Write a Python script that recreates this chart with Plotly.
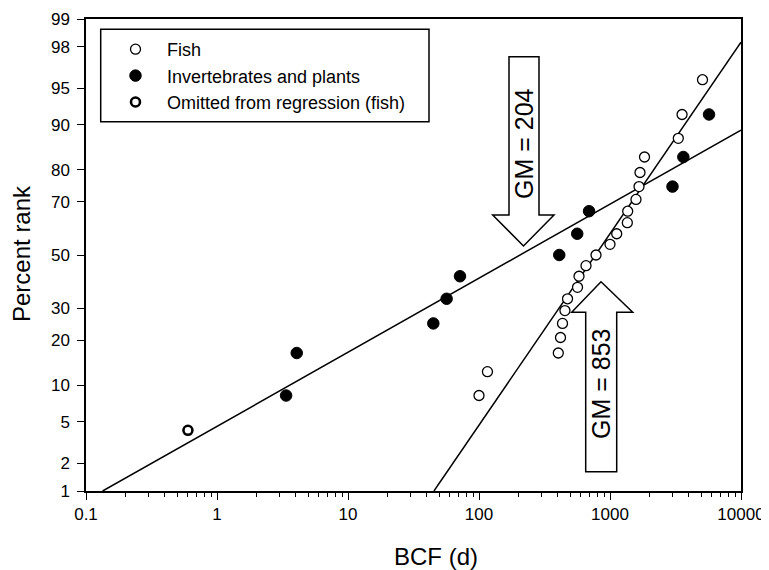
import plotly.graph_objects as go
from statistics import NormalDist

# ---- data ----
fish_bcf = [100, 116, 403, 419, 434, 453, 474, 565, 580, 656, 782, 1000,
            1125, 1356, 1365, 1579, 1665, 1694, 1834, 3322, 3548, 5083]
fish_pct = [8.3, 12.5, 16.7, 20.8, 25.0, 29.2, 33.3, 37.5, 41.7, 45.8, 50.0,
            54.2, 58.3, 62.5, 66.7, 70.8, 75.0, 79.2, 83.3, 87.5, 91.7, 95.8]

inv_bcf = [3.37, 4.06, 44.8, 56.6, 71.6, 410, 562, 692, 3000, 3630, 5700]
inv_pct = [8.3, 16.7, 25.0, 33.3, 41.7, 50.0, 58.3, 66.7, 75.0, 83.3, 91.7]

omit_bcf = [0.6]
omit_pct = [4.2]

fish_line_bcf = [45.3, 10000]
fish_line_pct = [1.0, 98.2]
inv_line_bcf = [0.134, 10000]
inv_line_pct = [1.0, 89.1]

y_tick_pct = [1, 2, 5, 10, 20, 30, 50, 70, 80, 90, 95, 98, 99]
x_tick_vals = [0.1, 1, 10, 100, 1000, 10000]
x_tick_text = ["0.1", "1", "10", "100", "1000", "10000"]

gm_labels = ["GM = 204", "GM = 853"]

nd = NormalDist()


def probit(pcts):
    return [nd.inv_cdf(p / 100.0) for p in pcts]


FONT = "Liberation Sans, Arial, sans-serif"

fig = go.Figure()
fig.add_trace(go.Scatter(
    x=fish_line_bcf, y=probit(fish_line_pct), mode="lines",
    line=dict(color="black", width=1.5), showlegend=False, hoverinfo="skip"))
fig.add_trace(go.Scatter(
    x=inv_line_bcf, y=probit(inv_line_pct), mode="lines",
    line=dict(color="black", width=1.5), showlegend=False, hoverinfo="skip"))
fig.add_trace(go.Scatter(
    x=fish_bcf, y=probit(fish_pct), mode="markers", name="Fish",
    marker=dict(symbol="circle", size=10, color="white",
                line=dict(color="black", width=1.3))))
fig.add_trace(go.Scatter(
    x=inv_bcf, y=probit(inv_pct), mode="markers", name="Invertebrates and plants",
    marker=dict(symbol="circle", size=11.5, color="black",
                line=dict(color="black", width=1))))
fig.add_trace(go.Scatter(
    x=omit_bcf, y=probit(omit_pct), mode="markers", name="Omitted from regression (fish)",
    marker=dict(symbol="circle", size=9, color="white",
                line=dict(color="black", width=2.6))))

# page offset from the default body margin of the html page
OFF = 8
FIG_W, FIG_H = 769 - OFF, 570 - OFF
# plot area in page pixels
L, R, T, B = 86, 741, 19, 491
W, H = R - L, B - T


def px(xp):
    return (xp - L) / W


def py(yp):
    return (B - yp) / H


def path(pts):
    return "M " + " L ".join(f"{px(a):.5f},{py(b):.5f}" for a, b in pts) + " Z"


# GM = 204 arrow (pointing down)
down = [(509, 56.7), (539, 56.7), (539, 215), (554, 215), (523.5, 246),
        (492.7, 215), (509, 215)]
# GM = 853 arrow (pointing up)
up = [(585.7, 471.7), (585.7, 312.3), (571.7, 312.3), (601, 281.7),
      (632.7, 312.3), (616.7, 312.3), (616.7, 471.7)]

shapes = []
for pts in (down, up):
    shapes.append(dict(type="path", xref="paper", yref="paper", path=path(pts),
                       line=dict(color="black", width=1.5), fillcolor="white",
                       layer="above"))
# legend frame
shapes.append(dict(type="rect", xref="paper", yref="paper",
                   x0=px(100.7), x1=px(429), y0=py(121.7), y1=py(29.3),
                   line=dict(color="black", width=1.5), fillcolor="white",
                   layer="below"))

annotations = [
    dict(text=gm_labels[0], xref="paper", yref="paper", x=px(524), y=py(144),
         xanchor="center", yanchor="middle",
         textangle=-90, showarrow=False, font=dict(size=25, color="black", family=FONT)),
    dict(text=gm_labels[1], xref="paper", yref="paper", x=px(601), y=py(384),
         xanchor="center", yanchor="middle",
         textangle=-90, showarrow=False, font=dict(size=25, color="black", family=FONT)),
    dict(text="Percent rank", xref="paper", yref="paper", x=px(21), y=py(254),
         xanchor="center", yanchor="middle",
         textangle=-90, showarrow=False, font=dict(size=24, color="black", family=FONT)),
    dict(text="BCF (d)", xref="paper", yref="paper", x=px(435.7), y=py(556),
         xanchor="center", yanchor="middle",
         showarrow=False, font=dict(size=24, color="black", family=FONT)),
]

fig.update_layout(
    width=FIG_W, height=FIG_H,
    margin=dict(l=L - OFF, r=769 - R, t=T - OFF, b=570 - B, autoexpand=False),
    paper_bgcolor="white", plot_bgcolor="white",
    font=dict(family=FONT, color="black", size=17),
    shapes=shapes, annotations=annotations,
    showlegend=True,
    legend=dict(x=px(104), y=py(31), xanchor="left", yanchor="top",
                bgcolor="rgba(0,0,0,0)", borderwidth=0,
                font=dict(size=18, family=FONT, color="black"),
                itemwidth=53, tracegroupgap=0),
)
fig.update_xaxes(
    type="log", range=[-1, 4], tickvals=x_tick_vals, ticktext=x_tick_text,
    ticks="outside", ticklen=7, tickwidth=1.3, tickcolor="black",
    showline=True, linecolor="black", linewidth=1.5, mirror=True,
    showgrid=False, zeroline=False,
    tickfont=dict(size=17, family=FONT, color="black"),
    minor=dict(ticks="outside", ticklen=4, tickwidth=1.2, tickcolor="black",
               dtick="D1", showgrid=False),
)
yv = probit(y_tick_pct)
fig.update_yaxes(
    range=[yv[0], yv[-1]], tickvals=yv, ticktext=[str(p) for p in y_tick_pct],
    ticks="outside", ticklen=7, tickwidth=1.3, tickcolor="black",
    showline=True, linecolor="black", linewidth=1.5, mirror=True,
    showgrid=False, zeroline=False, ticklabelstandoff=4,
    tickfont=dict(size=17, family=FONT, color="black"),
)

fig.write_html("out.html")
